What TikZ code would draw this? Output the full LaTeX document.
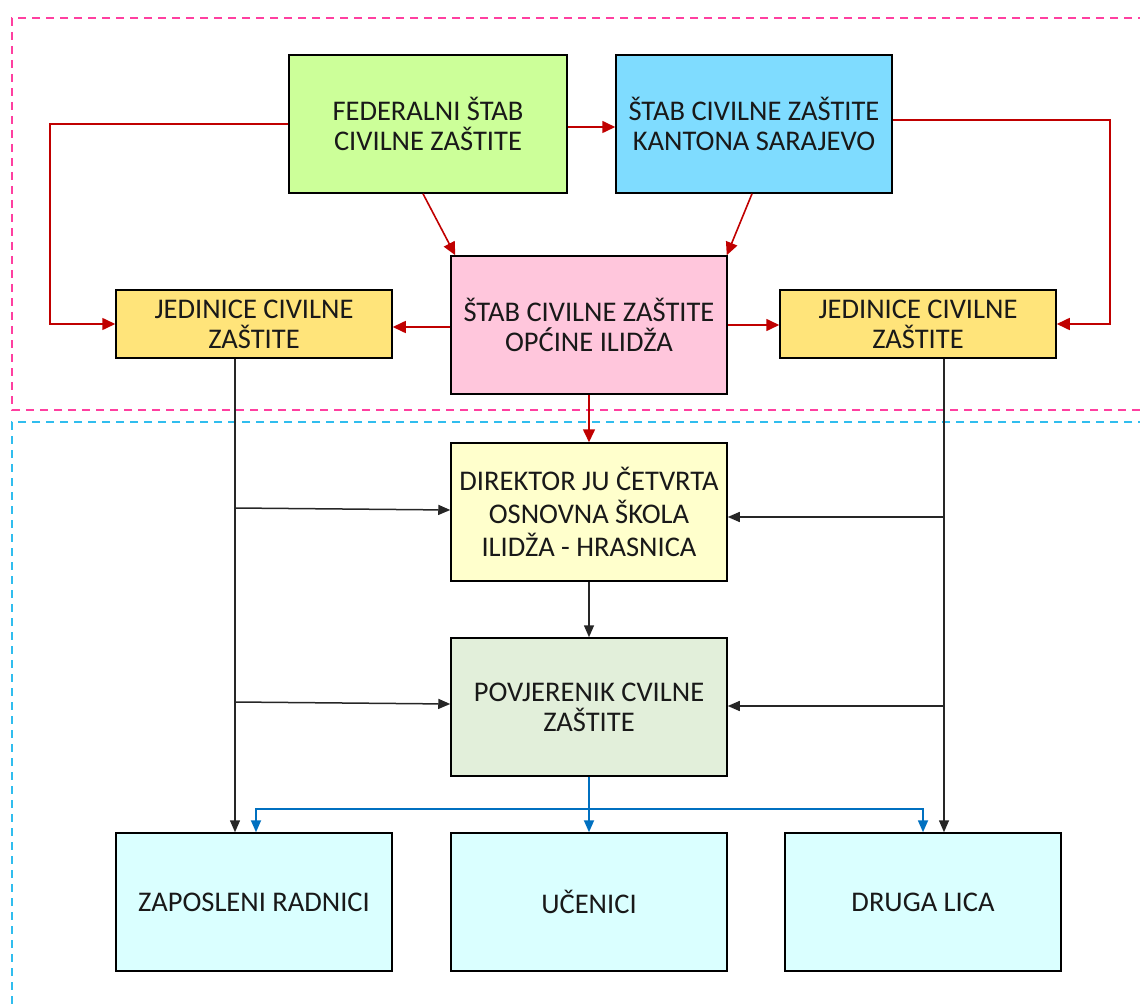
\documentclass[tikz,border=0pt]{standalone}
\usepackage{fontspec}
\setmainfont{Carlito}
\usetikzlibrary{arrows.meta}
\definecolor{cFed}{HTML}{CCFF99}
\definecolor{cKan}{HTML}{7FDCFF}
\definecolor{cPink}{HTML}{FFC6DC}
\definecolor{cJed}{HTML}{FFE47A}
\definecolor{cDir}{HTML}{FFFFCC}
\definecolor{cPov}{HTML}{E2EFDA}
\definecolor{cBot}{HTML}{DAFFFF}
\definecolor{cRed}{HTML}{C00000}
\definecolor{cBlue}{HTML}{0070C0}
\definecolor{cDashPink}{HTML}{FF3FA0}
\definecolor{cDashBlue}{HTML}{30BDEE}
\tikzset{
  box/.style={draw=black, line width=1.5pt, minimum width=276pt, minimum height=138pt,
    inner sep=0pt, align=center, font=\fontsize{28.5}{30}\selectfont, text=black!90},
  smallbox/.style={box, minimum height=68pt},
  redarr/.style={draw=cRed, line width=1.6pt, -{Triangle[length=13pt,width=12pt]}},
  blkarr/.style={draw=black!85, line width=1.5pt, -{Triangle[length=12pt,width=10pt]}},
  bluarr/.style={draw=cBlue, line width=1.8pt, -{Triangle[length=12pt,width=10pt]}},
  frame/.style={line width=1.5pt, dash pattern=on 8pt off 6pt}
}
\begin{document}
\begin{tikzpicture}[x=1pt,y=-1pt]
\useasboundingbox (0,0) rectangle (1140,1008);
\begin{scope}
\clip (0,0) rectangle (1140,1008);
\draw[frame, cDashPink] (1160,18) -- (12,18) -- (12,410) -- (1160,410);
\draw[frame, cDashBlue] (1160,422) -- (12,422) -- (12,1030);
\end{scope}

\node[box, fill=cFed, minimum width=278pt] (fed) at (428,124) {FEDERALNI ŠTAB\\CIVILNE ZAŠTITE};
\node[box, fill=cKan] (kan) at (754,124) {ŠTAB CIVILNE ZAŠTITE\\KANTONA SARAJEVO};
\node[smallbox, fill=cJed] (jedL) at (254,324) {JEDINICE CIVILNE\\ZAŠTITE};
\node[box, fill=cPink] (pink) at (589,325) {ŠTAB CIVILNE ZAŠTITE\\OPĆINE ILIDŽA};
\node[smallbox, fill=cJed] (jedR) at (918,324) {JEDINICE CIVILNE\\ZAŠTITE};
\node[box, fill=cDir, font=\fontsize{28.5}{33}\selectfont] (dir) at (589,512) {DIREKTOR JU ČETVRTA\\OSNOVNA ŠKOLA\\ILIDŽA - HRASNICA};
\node[box, fill=cPov] (pov) at (589,707) {POVJERENIK CVILNE\\ZAŠTITE};
\node[box, fill=cBot] (zap) at (254,902) {ZAPOSLENI RADNICI};
\node[box, fill=cBot] (uc) at (589,902) {UČENICI};
\node[box, fill=cBot] (dru) at (923,902) {DRUGA LICA};

\coordinate (xL) at (235,0);
\coordinate (xR) at (944,0);
\coordinate (cL) at (50,0);
\coordinate (cR) at (1110,0);
\coordinate (kanE) at ([yshift=4pt]kan.east);
\coordinate (pinkW) at ([yshift=-2pt]pink.west);

% red connectors
\draw[redarr] (fed.west) -- (cL |- fed.west) -- (cL |- jedL.west) -- (jedL.west);
\draw[redarr] (kanE) -- (cR |- kanE) -- (cR |- jedR.east) -- (jedR.east);
\draw[redarr] ([yshift=-3pt]fed.east) -- ([yshift=-3pt]kan.west);
\draw[redarr] ([xshift=-5pt]fed.south) -- ([xshift=5pt]pink.north west);
\draw[redarr] ([xshift=-2pt]kan.south) -- ([xshift=-1pt]pink.north east);
\draw[redarr] (pinkW) -- (jedL.east |- pinkW);
\draw[redarr] (pink.east) -- (jedR.west |- pink.east);
\draw[redarr] (pink.south) -- (dir.north);

% black connectors
\draw[blkarr] (xL |- jedL.south) -- (xL |- zap.north);
\draw[blkarr] (xR |- jedR.south) -- (xR |- dru.north);
\draw[blkarr] ([yshift=4pt]xL |- dir.west) -- ([yshift=2pt]dir.west);
\draw[blkarr] ([yshift=-5pt]xR |- dir.east) -- ([yshift=-5pt]dir.east);
\draw[blkarr] ([yshift=5pt]xL |- pov.west) -- ([yshift=3pt]pov.west);
\draw[blkarr] ([yshift=1pt]xR |- pov.east) -- ([yshift=1pt]pov.east);
\draw[blkarr] (dir.south) -- (pov.north);

% blue connectors
\coordinate (bj) at ([yshift=-32pt]pov.south);
\draw[bluarr] (pov.south) -- (bj) -| ([xshift=2pt]zap.north);
\draw[bluarr] (pov.south) -- (uc.north);
\draw[bluarr] (pov.south) -- (bj) -| (dru.north);
\end{tikzpicture}
\end{document}
